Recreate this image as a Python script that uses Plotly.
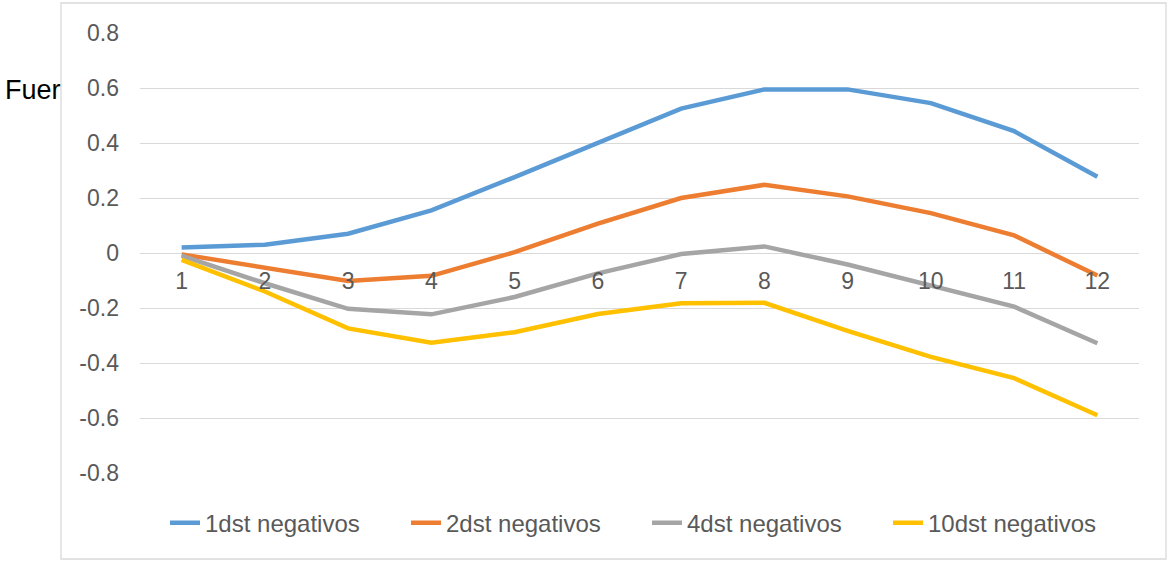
import plotly.graph_objects as go

categories = [1, 2, 3, 4, 5, 6, 7, 8, 9, 10, 11, 12]
series_names = ["1dst negativos", "2dst negativos", "4dst negativos", "10dst negativos"]
s1 = [0.02, 0.03, 0.07, 0.155, 0.276, 0.40, 0.525, 0.595, 0.595, 0.545, 0.443, 0.277]
s2 = [-0.005, -0.055, -0.102, -0.083, 0.003, 0.107, 0.200, 0.248, 0.206, 0.145, 0.064, -0.082]
s4 = [-0.01, -0.11, -0.203, -0.223, -0.16, -0.074, -0.004, 0.024, -0.042, -0.12, -0.195, -0.328]
s10 = [-0.025, -0.14, -0.274, -0.326, -0.288, -0.222, -0.183, -0.181, -0.283, -0.378, -0.455, -0.59]
colors = ["#5B9BD5", "#ED7D31", "#A5A5A5", "#FFC000"]
y_ticks = [-0.8, -0.6, -0.4, -0.2, 0, 0.2, 0.4, 0.6, 0.8]
y_tick_text = ["-0.8", "-0.6", "-0.4", "-0.2", "0", "0.2", "0.4", "0.6", "0.8"]
title_fragment = "Fuer"

fig = go.Figure()
for name, vals, col in zip(series_names, [s1, s2, s4, s10], colors):
    fig.add_trace(go.Scatter(x=categories, y=vals, mode="lines", name=name,
                             line=dict(color=col, width=4.5)))

FONT = "Liberation Sans, Arial, sans-serif"
fig.update_layout(
    width=1169, height=561,
    margin=dict(l=140, r=30, t=33, b=88, autoexpand=False),
    paper_bgcolor="white", plot_bgcolor="white",
    font=dict(family=FONT, size=23, color="#595959"),
    showlegend=True,
    legend=dict(orientation="h", x=(165 - 140) / 999, xanchor="left", y=-0.114, yanchor="middle",
                font=dict(size=24, color="#595959"), itemwidth=30,
                entrywidth=196, entrywidthmode="pixels",
                bgcolor="rgba(0,0,0,0)"),
    xaxis=dict(range=[0.5, 12.5], tickmode="array", tickvals=categories,
               ticktext=[str(c) for c in categories],
               showgrid=False, zeroline=False, showline=False, ticks="",
               anchor="free", position=0.5, ticklabelstandoff=12,
               tickfont=dict(size=23, color="#595959")),
    yaxis=dict(range=[-0.8, 0.8], tickmode="array", tickvals=y_ticks, ticktext=y_tick_text,
               showgrid=True, gridcolor="#D9D9D9", gridwidth=1.3,
               zeroline=True, zerolinecolor="#D9D9D9", zerolinewidth=1.3,
               showline=False, ticks="", ticklabelstandoff=20,
               tickfont=dict(size=23, color="#595959")),
    shapes=[dict(type="rect", xref="paper", yref="paper",
                 x0=(61 - 140) / 999, x1=(1166 - 140) / 999,
                 y0=(473 - 559) / 440, y1=(473 - 3) / 440,
                 line=dict(color="#D9D9D9", width=1.3), fillcolor="rgba(0,0,0,0)", layer="below")],
    annotations=[dict(text=title_fragment, xref="paper", yref="paper",
                      x=(3 - 140) / 999, xanchor="left", y=(473 - 90) / 440, yanchor="middle",
                      showarrow=False, font=dict(size=27, color="black", family=FONT))],
)

fig.write_html("out.html")
